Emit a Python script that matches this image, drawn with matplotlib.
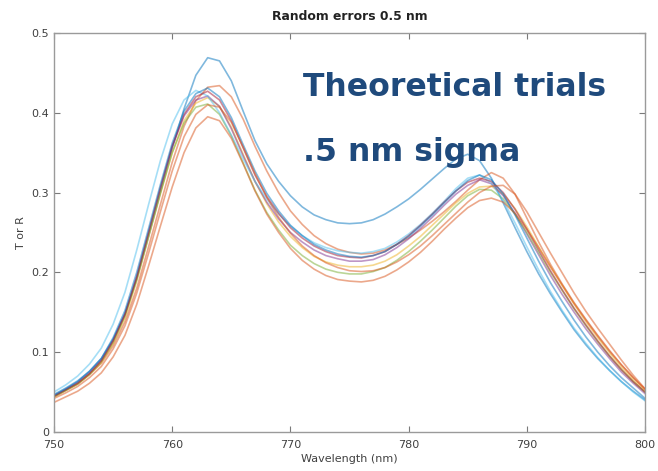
import matplotlib.pyplot as plt

# wavelength (nm), one reading per nm
wl = list(range(750, 801))

blue_high = [.047, .055, .064, .076, .092, .116, .148, .192, .245, .300,
             .355, .405, .447, .469, .465, .440, .402, .365, .336, .314,
             .296, .282, .272, .266, .262, .261, .262, .266, .273, .282,
             .292, .304, .317, .330, .342, .348, .340, .318, .287, .256,
             .226, .198, .173, .150, .128, .109, .092, .077, .063, .051,
             .040]
orange_high = [.044, .052, .060, .072, .086, .108, .138, .180, .232, .285,
               .338, .383, .415, .432, .434, .420, .392, .358, .327, .300,
               .277, .260, .246, .236, .229, .225, .223, .224, .228, .235,
               .243, .253, .264, .276, .289, .303, .316, .325, .318, .298,
               .268, .238, .210, .185, .162, .141, .121, .102, .084, .068,
               .053]
yellow = [.044, .052, .060, .072, .087, .111, .143, .189, .244, .298,
          .350, .390, .412, .419, .408, .382, .348, .314, .286, .263,
          .245, .231, .220, .213, .209, .207, .207, .209, .214, .222,
          .233, .245, .259, .273, .287, .299, .307, .308, .298, .280,
          .257, .232, .207, .183, .160, .138, .118, .099, .081, .065,
          .051]
purple = [.045, .053, .062, .074, .090, .115, .148, .195, .250, .305,
          .358, .396, .416, .421, .408, .380, .346, .314, .288, .267,
          .250, .238, .228, .221, .217, .214, .214, .216, .222, .231,
          .242, .255, .269, .284, .298, .309, .316, .311, .296, .274,
          .248, .222, .196, .172, .150, .129, .110, .092, .075, .061,
          .048]
green = [.044, .052, .060, .072, .088, .112, .145, .191, .246, .300,
         .350, .387, .407, .411, .398, .371, .337, .303, .275, .253,
         .234, .221, .211, .204, .200, .198, .198, .201, .206, .215,
         .226, .239, .253, .268, .283, .296, .304, .303, .292, .273,
         .250, .225, .200, .177, .154, .133, .113, .095, .078, .063,
         .050]
light_blue = [.050, .059, .070, .085, .105, .135, .175, .228, .285, .340,
              .386, .416, .428, .421, .400, .372, .342, .314, .292, .273,
              .258, .246, .237, .231, .227, .225, .224, .226, .230, .238,
              .248, .260, .274, .289, .305, .318, .322, .312, .290, .262,
              .232, .203, .176, .152, .130, .111, .093, .077, .063, .050,
              .039]
red = [.045, .053, .061, .073, .089, .114, .147, .194, .250, .306,
       .358, .398, .420, .427, .416, .390, .356, .322, .295, .274,
       .256, .243, .233, .226, .221, .219, .218, .221, .226, .235,
       .246, .259, .273, .288, .302, .313, .318, .314, .300, .279,
       .254, .228, .202, .178, .155, .134, .114, .095, .078, .063,
       .050]
blue_2 = [.046, .054, .063, .076, .092, .118, .152, .200, .255, .310,
          .362, .402, .424, .431, .420, .394, .360, .327, .299, .277,
          .259, .246, .235, .228, .223, .220, .219, .221, .226, .235,
          .245, .258, .272, .287, .302, .315, .322, .316, .298, .272,
          .243, .214, .187, .163, .140, .119, .100, .083, .068, .055,
          .042]
orange_low = [.037, .044, .051, .061, .074, .094, .121, .160, .208, .258,
              .307, .350, .381, .395, .390, .368, .336, .302, .273, .250,
              .230, .215, .204, .196, .191, .189, .188, .190, .195, .203,
              .213, .225, .239, .254, .268, .281, .290, .293, .288, .274,
              .254, .231, .207, .184, .161, .140, .120, .101, .084, .068,
              .054]
orange_mid = [.042, .049, .057, .068, .082, .104, .133, .174, .224, .276,
              .327, .370, .398, .410, .407, .388, .357, .324, .294, .269,
              .249, .233, .221, .212, .206, .202, .201, .202, .206, .213,
              .222, .233, .246, .260, .274, .288, .300, .308, .309, .298,
              .276, .250, .224, .199, .174, .151, .130, .110, .090, .071,
              .054]

trials = [blue_high, orange_high, yellow, purple, green, light_blue, red, blue_2, orange_low, orange_mid]
colors = ['#0072BD', '#D95319', '#EDB120', '#7E2F8E', '#77AC30', '#4DBEEE', '#A2142F',
          '#0072BD', '#D95319', '#D95319']

fig = plt.figure(figsize=(6.58, 4.71), dpi=100)
ax = fig.add_axes([0.0821, 0.083, 0.8982, 0.847])

for ys, c in zip(trials, colors):
    ax.plot(wl, ys, color=c, linewidth=1.2, alpha=0.5)

ax.set_xlim(750, 800)
ax.set_ylim(0, 0.5)
ax.set_xticks([750, 760, 770, 780, 790, 800])
ax.set_yticks([0, 0.1, 0.2, 0.3, 0.4, 0.5])
ax.set_yticklabels(['0', '0.1', '0.2', '0.3', '0.4', '0.5'])
ax.tick_params(direction='in', top=True, right=True, length=4, width=0.8,
               labelsize=8, colors='#7a7a7a', labelcolor='#404040')
ax.tick_params(axis='x', pad=6)
for s in ax.spines.values():
    s.set_color('#9a9a9a')
    s.set_linewidth(1.0)

ax.set_title('Random errors 0.5 nm', fontsize=8.9, fontweight='bold', color='#222222', pad=9)
ax.set_xlabel('Wavelength (nm)', fontsize=8, color='#404040', labelpad=3)
ax.set_ylabel('T or R', fontsize=8, color='#404040', labelpad=4)

fig.text(303 / 658, 1 - 88 / 471, 'Theoretical trials', fontsize=22.7, fontweight='bold',
         color='#1f4a7c', va='center', ha='left')
fig.text(303 / 658, 1 - 153 / 471, '.5 nm sigma', fontsize=22.7, fontweight='bold',
         color='#1f4a7c', va='center', ha='left')

fig.savefig('out.png', dpi=100)
